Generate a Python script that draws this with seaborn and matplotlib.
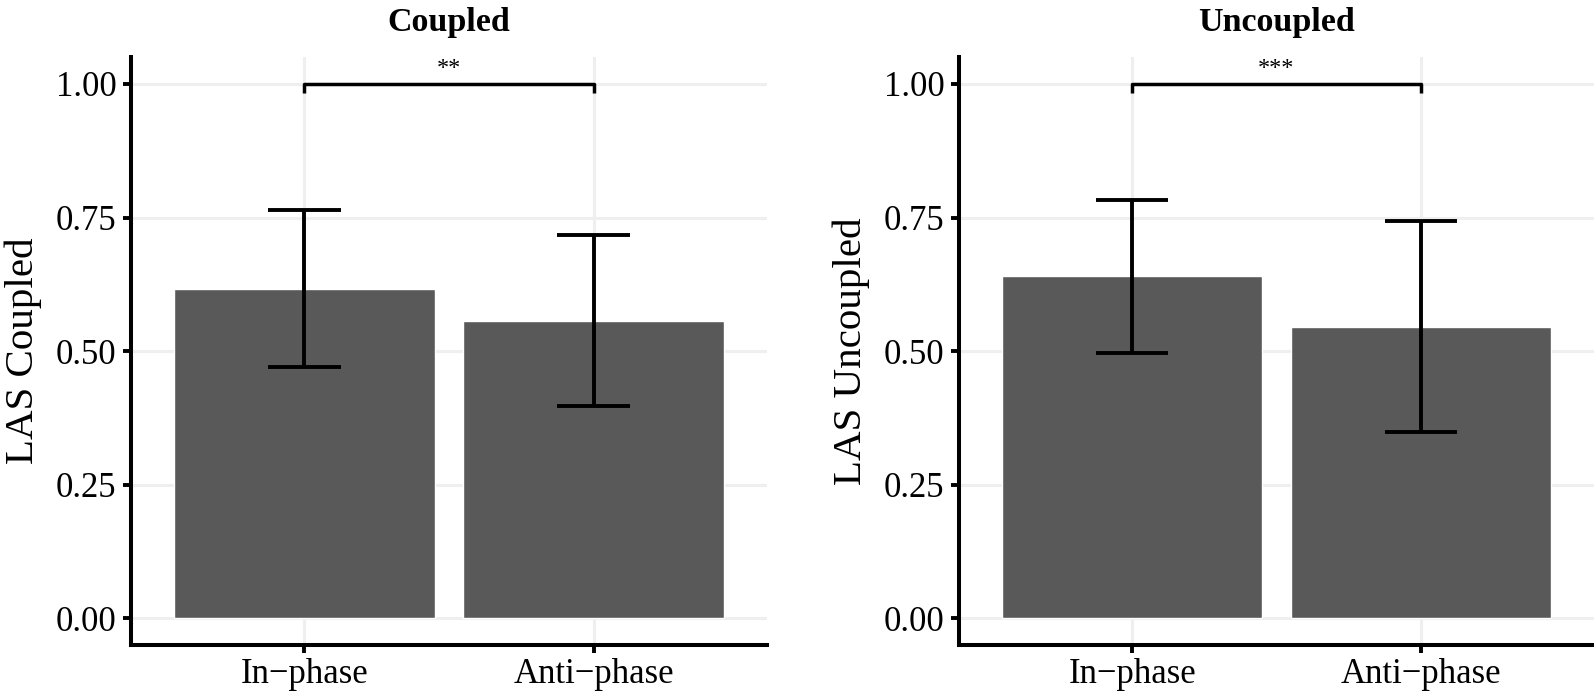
import numpy as np
import pandas as pd
import matplotlib
matplotlib.use("Agg")
import matplotlib.pyplot as plt
import seaborn as sns

# ---- data ----
phases = ["In\u2212phase", "Anti\u2212phase"]
coupled_mean = [0.616, 0.557]
coupled_lo = [0.471, 0.397]
coupled_hi = [0.764, 0.718]
uncoupled_mean = [0.640, 0.545]
uncoupled_lo = [0.496, 0.349]
uncoupled_hi = [0.783, 0.743]
panel_titles = ["Coupled", "Uncoupled"]
y_labels = ["LAS Coupled", "LAS Uncoupled"]
signif = ["**", "***"]
bracket_y = 1.0
y_ticks = [0.00, 0.25, 0.50, 0.75, 1.00]

sns.set_style("white")
plt.rcParams['font.family'] = ['Liberation Serif', 'DejaVu Serif']
plt.rcParams['text.color'] = 'black'
plt.rcParams['axes.labelcolor'] = 'black'

fig = plt.figure(figsize=(15.94, 6.95), dpi=100)
ax_pos = [[0.0822, 0.0719, 0.3990, 0.8457],
          [0.6016, 0.0719, 0.3984, 0.8457]]

panels = [
    (coupled_mean, coupled_lo, coupled_hi),
    (uncoupled_mean, uncoupled_lo, uncoupled_hi),
]

lw = 2.8
for i, (m, lo, hi) in enumerate(panels):
    ax = fig.add_axes(ax_pos[i])
    df = pd.DataFrame({"phase": phases, "las": m})
    sns.barplot(data=df, x="phase", y="las", ax=ax, color="#595959",
                saturation=1, width=0.9, errorbar=None, order=phases)
    xs = np.arange(len(phases))
    m = np.asarray(m); lo = np.asarray(lo); hi = np.asarray(hi)
    ax.vlines(xs, lo, hi, color="black", linewidth=lw, zorder=3)
    ax.hlines(lo, xs - 0.125, xs + 0.125, color="black", linewidth=lw, zorder=3)
    ax.hlines(hi, xs - 0.125, xs + 0.125, color="black", linewidth=lw, zorder=3)

    # significance bracket
    ax.plot([xs[0], xs[0], xs[1], xs[1]],
            [bracket_y - 0.016, bracket_y, bracket_y, bracket_y - 0.016],
            color="black", linewidth=2.5, zorder=3, solid_capstyle="butt")
    ax.text((xs[0] + xs[1]) / 2, bracket_y + 0.019, signif[i],
            ha="center", va="baseline", fontsize=17.5, color="black")

    ax.set_xlim(-0.6, 1.6)
    ax.set_ylim(-0.05, 1.05)
    ax.set_yticks(y_ticks)
    ax.set_yticklabels([f"{t:.2f}" for t in y_ticks])
    ax.grid(True, color="#EFEFEF", linewidth=2.2)
    ax.set_axisbelow(True)
    for s in ["top", "right"]:
        ax.spines[s].set_visible(False)
    for s in ["left", "bottom"]:
        ax.spines[s].set_linewidth(2.9)
        ax.spines[s].set_color("black")
    ax.tick_params(axis="both", which="major", length=5.5, width=2.8,
                   color="black", labelsize=25, labelcolor="black",
                   direction="out", left=True, bottom=True)
    ax.tick_params(axis="y", pad=5)
    ax.tick_params(axis="x", pad=4)
    ax.set_xlabel("")
    ax.set_ylabel(y_labels[i], fontsize=29.5, labelpad=10, color="black")
    ax.set_title(panel_titles[i], fontsize=24.5, fontweight="bold", pad=19,
                 color="black")

fig.savefig("out.png", dpi=100)
